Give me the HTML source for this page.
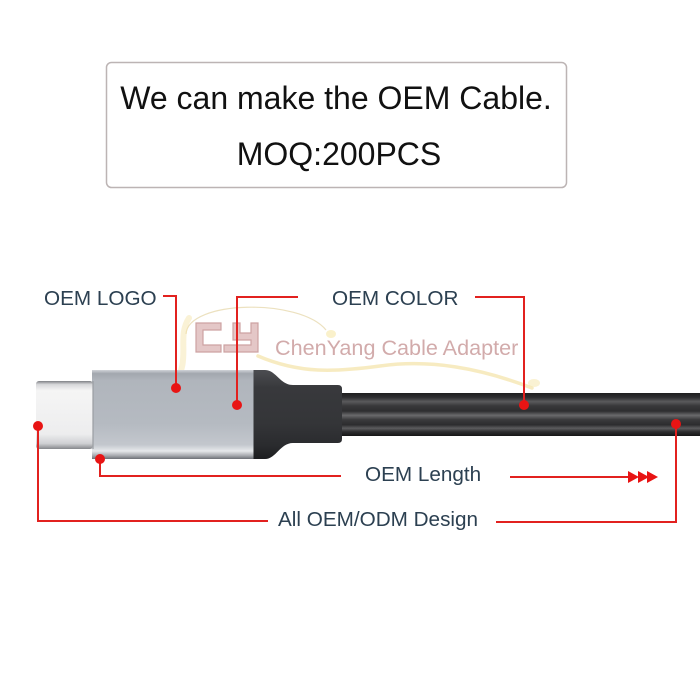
<!DOCTYPE html>
<html>
<head>
<meta charset="utf-8">
<style>
  html,body{margin:0;padding:0;background:#fff;}
  body{width:700px;height:700px;overflow:hidden;}
  svg{display:block;}
  .lbl{font-family:"Liberation Sans",Arial,sans-serif;font-size:20.7px;fill:#2c4051;}
  .big{font-family:"Liberation Sans",Arial,sans-serif;font-size:32px;fill:#111;}
</style>
</head>
<body>
<svg width="700" height="700" viewBox="0 0 700 700" xmlns="http://www.w3.org/2000/svg">
  <defs>
    <linearGradient id="tipG" x1="0" y1="0" x2="0" y2="1">
      <stop offset="0" stop-color="#7e8084"/>
      <stop offset="0.05" stop-color="#d6d7d9"/>
      <stop offset="0.14" stop-color="#f5f5f5"/>
      <stop offset="0.78" stop-color="#ededee"/>
      <stop offset="0.92" stop-color="#cfd0d3"/>
      <stop offset="1" stop-color="#85878b"/>
    </linearGradient>
    <linearGradient id="metalG" x1="0" y1="0" x2="0" y2="1">
      <stop offset="0" stop-color="#d0d3d8"/>
      <stop offset="0.04" stop-color="#a2a7ae"/>
      <stop offset="0.12" stop-color="#b0b5bc"/>
      <stop offset="0.6" stop-color="#b5bac1"/>
      <stop offset="0.84" stop-color="#c3c7cd"/>
      <stop offset="0.91" stop-color="#e6e8eb"/>
      <stop offset="0.96" stop-color="#a9acb1"/>
      <stop offset="1" stop-color="#6d7076"/>
    </linearGradient>
    <linearGradient id="reliefG" x1="0" y1="0" x2="0" y2="1">
      <stop offset="0" stop-color="#4c4d51"/>
      <stop offset="0.2" stop-color="#38393c"/>
      <stop offset="0.6" stop-color="#343538"/>
      <stop offset="0.85" stop-color="#2a2b2e"/>
      <stop offset="1" stop-color="#1c1d1f"/>
    </linearGradient>
    <linearGradient id="cableG" x1="0" y1="0" x2="0" y2="1">
      <stop offset="0" stop-color="#1e1e1f"/>
      <stop offset="0.1" stop-color="#2e2e30"/>
      <stop offset="0.2" stop-color="#5a5a5c"/>
      <stop offset="0.3" stop-color="#38383a"/>
      <stop offset="0.42" stop-color="#2e2e30"/>
      <stop offset="0.52" stop-color="#6a6a6c"/>
      <stop offset="0.62" stop-color="#3a3a3c"/>
      <stop offset="0.74" stop-color="#2c2c2e"/>
      <stop offset="0.82" stop-color="#5c5c5e"/>
      <stop offset="0.9" stop-color="#2e2e30"/>
      <stop offset="1" stop-color="#151516"/>
    </linearGradient>
  </defs>

  <!-- Top box -->
  <rect x="106.5" y="62.5" width="460" height="125" rx="5" ry="5" fill="#fff" stroke="#bcb4b4" stroke-width="1.5"/>
  <text class="big" x="336" y="109" text-anchor="middle">We can make the OEM Cable.</text>
  <text class="big" x="339" y="165" text-anchor="middle">MOQ:200PCS</text>

  <!-- Watermark swooshes -->
  <path d="M186,334 C188,300 300,298 326,330" fill="none" stroke="#e9dcb4" stroke-width="1.2" opacity="0.85"/>
  <ellipse cx="331" cy="334" rx="5" ry="4" fill="#f6e7a8" opacity="0.6"/>
  <path d="M189,318 C176,338 192,360 174,384" fill="none" stroke="#f6e6ae" stroke-width="6" stroke-linecap="round" opacity="0.5"/>
  <path d="M258,356 C300,374 335,372 380,366 C430,359 480,368 532,388" fill="none" stroke="#f4e3a6" stroke-width="3.5" stroke-linecap="round" opacity="0.7"/>
  <ellipse cx="534" cy="383" rx="6" ry="4" fill="#f6e9b5" opacity="0.6"/>

  <!-- CY logo -->
  <g fill="#e2c2c2" stroke="#c89999" stroke-width="1.2" opacity="0.9">
    <path d="M196,323 L221,323 L221,330 L203,330 L203,345 L221,345 L221,352 L196,352 Z"/>
    <path d="M233,323 L240,323 L240,333 L251,333 L251,323 L258,323 L258,352 L224,352 L224,345 L251,345 L251,340 L233,340 Z"/>
  </g>
  <text x="275" y="355" font-family="'Liberation Sans',Arial,sans-serif" font-size="21.6" fill="#d2abab">ChenYang Cable Adapter</text>

  <!-- Cable -->
  <rect x="340" y="393" width="360" height="43" fill="url(#cableG)"/>
  <path d="M253,370 L265,370 C276,370 280,385 293,385 L338,385 Q342,385 342,389 L342,439 Q342,443 338,443 L293,443 C280,443 276,459 265,459 L253,459 Z" fill="url(#reliefG)"/>
  <rect x="92" y="370" width="161.5" height="89" fill="url(#metalG)"/>
  <rect x="36" y="381" width="57" height="68" rx="3" ry="3" fill="url(#tipG)"/>
  <rect x="92" y="381" width="2" height="68" fill="#9a9da2" opacity="0.6"/>

  <!-- Labels -->
  <text class="lbl" x="44" y="305">OEM LOGO</text>
  <text class="lbl" x="332" y="305">OEM COLOR</text>
  <text class="lbl" x="365" y="481">OEM Length</text>
  <text class="lbl" x="278" y="526">All OEM/ODM Design</text>

  <!-- Red connectors -->
  <g fill="none" stroke="#e2211f" stroke-width="2">
    <polyline points="163,296 176,296 176,388"/>
    <polyline points="298,297 237,297 237,405"/>
    <polyline points="475,297 524,297 524,405"/>
    <polyline points="38,426 38,521 268,521"/>
    <polyline points="100,459 100,476 341,476"/>
    <line x1="510" y1="477" x2="630" y2="477"/>
    <polyline points="496,522 676,522 676,424"/>
  </g>
  <g fill="#e81414">
    <circle cx="176" cy="388" r="5"/>
    <circle cx="237" cy="405" r="5"/>
    <circle cx="524" cy="405" r="5"/>
    <circle cx="38" cy="426" r="5"/>
    <circle cx="100" cy="459" r="5"/>
    <circle cx="676" cy="424" r="5"/>
    <polygon points="628,471 639,477 628,483"/>
    <polygon points="638,471 649,477 638,483"/>
    <polygon points="647,471 658,477 647,483"/>
  </g>
</svg>
</body>
</html>
